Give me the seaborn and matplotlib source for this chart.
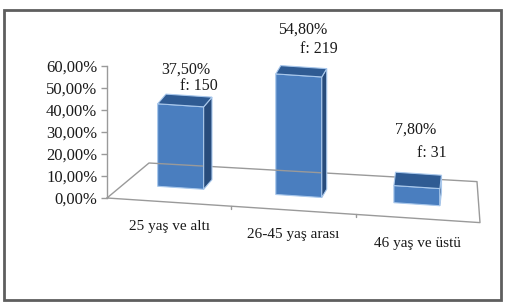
import numpy as np
import pandas as pd
import matplotlib
matplotlib.use("Agg")
import matplotlib.pyplot as plt
import seaborn as sns
from matplotlib.transforms import Affine2D
from matplotlib.patches import Polygon, Rectangle
from matplotlib.lines import Line2D
from matplotlib.ticker import FuncFormatter

# data
categories = ["25 yaş ve altı", "26-45 yaş arası", "46 yaş ve üstü"]
percent = [37.5, 54.8, 7.8]
freq = [150, 219, 31]

# look of the fake 3d chart (pixels)
W, H = 505, 302
SLOPE = 0.066            # floor front edge goes down to the right
SETBACK = 14.3           # bars sit a bit behind the front edge
FLOOR_DEPTH_L = (42, 35)
FLOOR_DEPTH_R = (-3, 41)
FRONT = "#4A7EBF"
TOP = "#2F5B93"
SIDE = "#284C7C"
EDGE = "#A9C8EC"
GRID = "#9a9a9a"
TXT = "#1a1a1a"
# label offsets from the top of each bar (pct line, f line)
pct_off = [(5, 36), (4, 46), (-1, 57)]
f_off = [(18, 19), (20, 26), (15, 34)]

sns.set_theme(style="white")
plt.rcParams["font.family"] = ["Liberation Serif", "DejaVu Serif"]

fig = plt.figure(figsize=(W / 100, H / 100), dpi=100)
ax = fig.add_axes([107 / W, 104 / H, 373 / W, 132 / H])
ax.patch.set_alpha(0)

df = pd.DataFrame({"grup": categories, "oran": percent})
sns.barplot(data=df, x="grup", y="oran", color=FRONT, width=0.37,
            saturation=1, ax=ax, edgecolor=EDGE, linewidth=0.8, zorder=3)
ax.set_xlim(-0.5, 2.5)
ax.set_ylim(0, 60)

# y axis
ax.set_yticks(np.arange(0, 61, 10))
ax.yaxis.set_major_formatter(FuncFormatter(lambda v, p: f"{v:.2f}%".replace(".", ",")))
ax.tick_params(axis="y", length=4, width=1, color=GRID, pad=3,
               labelsize=12, labelcolor=TXT, left=True)
ax.tick_params(axis="x", bottom=False, labelbottom=False)
for side in ["top", "right", "bottom"]:
    ax.spines[side].set_visible(False)
ax.spines["left"].set_color(GRID)
ax.spines["left"].set_linewidth(1)
ax.set_xlabel("")
ax.set_ylabel("")

# floor (skewed)
x0, y0 = ax.transData.transform((-0.5, 0))
skew = Affine2D().translate(-x0, -y0).skew(0, np.arctan(-SLOPE)).translate(x0, y0)
floor_tr = ax.transData + skew
fl = floor_tr.transform((-0.5, 0))
fr = floor_tr.transform((2.5, 0))
bl = fl + np.array(FLOOR_DEPTH_L)
br = fr + np.array(FLOOR_DEPTH_R)
fig.add_artist(Line2D([fl[0], fr[0], br[0], bl[0], fl[0]],
                      [fl[1], fr[1], br[1], bl[1], fl[1]],
                      transform=None, color=GRID, lw=1, zorder=1))
for b in [0.5, 1.5]:
    px, py = floor_tr.transform((b, 0))
    fig.add_artist(Line2D([px, px], [py, py - 3], transform=None, color=GRID, lw=1, zorder=1))

# bars: move front faces back and draw top / side faces
for i, p in enumerate(ax.patches):
    cx = p.get_x() + p.get_width() / 2
    xc = ax.transData.transform((cx, 0))[0]
    dx = 14.6 - 0.05 * (xc - x0)
    tr = ax.transData + skew + Affine2D().translate(dx, SETBACK)
    p.set_transform(tr)
    p.set_clip_on(False)
    a, h, w = p.get_x(), p.get_height(), p.get_width()
    tl, trr, brr = tr.transform([(a, h), (a + w, h), (a + w, 0)])
    ddx = 10 - 0.027 * (xc - x0)
    ddy = 18.6 - 0.045 * tl[1]
    d = np.array([ddx, ddy])
    top = Polygon([tl, trr, trr + d, tl + d], closed=True, transform=None,
                  facecolor=TOP, edgecolor=EDGE, lw=0.8, zorder=4)
    sidef = Polygon([trr, brr, brr + d, trr + d], closed=True, transform=None,
                    facecolor=SIDE, edgecolor=EDGE, lw=0.8, zorder=4)
    fig.add_artist(sidef)
    fig.add_artist(top)
    # value labels
    tc = (tl + trr) / 2
    fig.text((tc[0] + pct_off[i][0]) / W, (tc[1] + pct_off[i][1]) / H,
             f"{percent[i]:.2f}%".replace(".", ","), ha="center", va="center",
             fontsize=11.5, color=TXT)
    fig.text((tc[0] + f_off[i][0]) / W, (tc[1] + f_off[i][1]) / H,
             f"f: {freq[i]}", ha="center", va="center", fontsize=11.5, color=TXT)

# category labels under the floor edge
for i, c in enumerate(categories):
    px, py = floor_tr.transform((i, 0))
    fig.text(px / W, (py - 24.5) / H, c, ha="center", va="center",
             fontsize=11, color=TXT)

# outer frame
fig.add_artist(Rectangle((4, 2), 497, 290, transform=None, fill=False,
                         edgecolor="#5e5e5e", lw=2, zorder=10))

fig.savefig("out.png", dpi=100)
